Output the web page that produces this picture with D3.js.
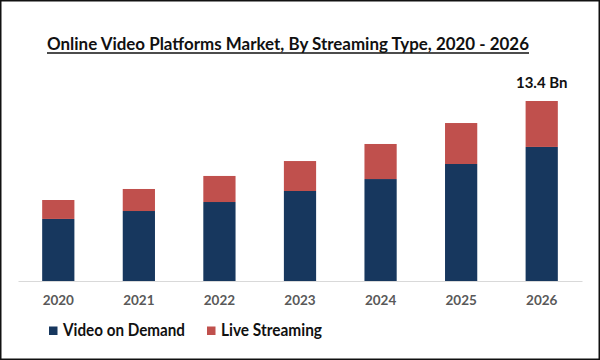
<!DOCTYPE html>
<html><head><meta charset="utf-8">
<script src="https://cdn.jsdelivr.net/npm/d3@7"></script>
<style>html,body{margin:0;padding:0;background:#fff;}svg{display:block;}</style>
</head><body>
<svg id="c" width="600" height="360"></svg>
<script>
const years = ["2020","2021","2022","2023","2024","2025","2026"];
const videoOnDemand = [4.62, 5.21, 5.88, 6.70, 7.59, 8.71, 9.98];
const liveStreaming = [1.41, 1.64, 1.94, 2.23, 2.61, 3.05, 3.42];
const seriesNames = ["Video on Demand", "Live Streaming"];
const seriesColors = ["#17375E", "#C0504D"];
const totalLabel = "13.4 Bn";
const title = "Online Video Platforms Market, By Streaming Type, 2020 - 2026";

const svg = d3.select("#c");
const font = "Lato, 'Open Sans', sans-serif";

svg.append("rect").attr("x",0.75).attr("y",0.75).attr("width",598.5).attr("height",358.5)
  .attr("fill","#fff").attr("stroke","#111").attr("stroke-width",1.5);

svg.append("text").attr("x",288).attr("y",50).attr("text-anchor","middle")
  .attr("font-family",font).attr("font-weight","bold").attr("font-size",16.5).attr("fill","#111")
  .attr("textLength",482).attr("lengthAdjust","spacingAndGlyphs").text(title);
svg.append("line").attr("x1",47).attr("x2",529).attr("y1",53).attr("y2",53)
  .attr("stroke","#111").attr("stroke-width",1.3);

const data = years.map((y,i)=>({year:y, vod:videoOnDemand[i], live:liveStreaming[i]}));
const stack = d3.stack().keys(["vod","live"])(data);

const x = d3.scaleBand().domain(years).range([18,582]).paddingInner(0.6).paddingOuter(0.3);
const maxTotal = d3.max(data, d=>d.vod+d.live);
const y = d3.scaleLinear().domain([0, maxTotal]).range([281, 101]);

svg.append("g").selectAll("g").data(stack).join("g")
  .attr("fill",(d,i)=>seriesColors[i])
  .selectAll("rect").data(d=>d).join("rect")
  .attr("x",d=>x(d.data.year)).attr("width",x.bandwidth())
  .attr("y",d=>y(d[1])).attr("height",d=>y(d[0])-y(d[1]));

const axis = svg.append("g").attr("transform","translate(0,281)")
  .call(d3.axisBottom(x).tickSize(0).tickPadding(14));
axis.select(".domain").attr("stroke","#d9d9d9").attr("stroke-width",1.2);
axis.selectAll("text").attr("font-family",font).attr("font-size",13.5).attr("font-weight","bold")
  .attr("fill","#595959");

const last = data[data.length-1];
svg.append("text").attr("x",x(last.year)+x.bandwidth()/2).attr("y",y(last.vod+last.live)-13)
  .attr("text-anchor","middle").attr("font-family",font).attr("font-weight","bold")
  .attr("font-size",15).attr("fill","#111").text(totalLabel);

const legendX = [49, 207];
const legendLen = [122, 101];
const lg = svg.append("g").selectAll("g").data(seriesNames).join("g")
  .attr("transform",(d,i)=>`translate(${legendX[i]},326.5)`);
lg.append("rect").attr("width",8.5).attr("height",8.5).attr("fill",(d,i)=>seriesColors[i]);
lg.append("text").attr("x",14).attr("y",9.5).attr("font-family",font).attr("font-weight","bold")
  .attr("font-size",16.5).attr("fill","#111")
  .attr("textLength",(d,i)=>legendLen[i]).attr("lengthAdjust","spacingAndGlyphs").text(d=>d);
</script>
</body></html>
